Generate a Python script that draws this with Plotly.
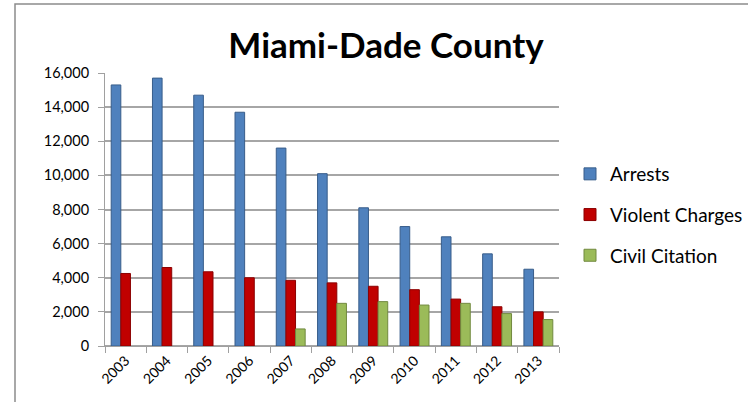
import plotly.graph_objects as go

years = ["2003", "2004", "2005", "2006", "2007", "2008", "2009", "2010", "2011", "2012", "2013"]
arrests = [15300, 15700, 14700, 13700, 11600, 10100, 8100, 7000, 6400, 5400, 4500]
violent = [4250, 4600, 4350, 4000, 3850, 3700, 3500, 3300, 2750, 2300, 2000]
civil = [None, None, None, None, 1000, 2500, 2600, 2400, 2500, 1900, 1550]

W, H = 748, 402
FONT = "Lato"

fig = go.Figure()
series = [
    ("Arrests", arrests, "#4F81BD", "#385D8A"),
    ("Violent Charges", violent, "#C00000", "#8B0000"),
    ("Civil Citation", civil, "#9BBB59", "#71893F"),
]
for i, (name, vals, col, edge) in enumerate(series):
    fig.add_trace(go.Bar(
        x=years, y=vals, name=name, legendgroup=name,
        marker=dict(color=col, line=dict(color=edge, width=1)),
    ))

x0, x1 = 105, 559
y0, y1 = 346, 73
fig.update_layout(
    width=W, height=H,
    margin=dict(l=0, r=0, t=0, b=0, autoexpand=False),
    paper_bgcolor="white", plot_bgcolor="white",
    barmode="group", bargap=0.3, bargroupgap=0,
    font=dict(family=FONT, size=14, color="black"),
    title=dict(text="<b>Miami-Dade County</b>", x=386 / W, xanchor="center",
               y=1 - 46 / H, yanchor="middle",
               font=dict(family=FONT, size=35, color="black")),
    xaxis=dict(domain=[x0 / W, x1 / W], type="category", tickangle=-45,
               range=[-0.5, 10.5], automargin=False,
               tickson="boundaries", ticks="outside", ticklen=6, tickcolor="#A0A0A0",
               showline=True, linecolor="#A0A0A0", linewidth=1,
               showgrid=False, tickfont=dict(size=14)),
    yaxis=dict(domain=[1 - y0 / H, 1 - y1 / H], range=[0, 16000], dtick=2000,
               automargin=False, ticklabelstandoff=6,
               tickformat=",d", ticks="outside", ticklen=6, tickcolor="#A0A0A0",
               showline=True, linecolor="#A0A0A0", linewidth=1,
               showgrid=True, gridcolor="#A6A6A6", gridwidth=2,
               zeroline=True, zerolinecolor="#A6A6A6", zerolinewidth=2,
               tickfont=dict(size=14.5)),
    legend=dict(x=570 / W, xanchor="left", y=1 - 155 / H, yanchor="top",
                traceorder="grouped", tracegroupgap=13,
                font=dict(family=FONT, size=19), bgcolor="rgba(0,0,0,0)"),
    shapes=[dict(type="rect", xref="paper", yref="paper",
                 x0=15 / W, x1=1.02, y0=-0.05, y1=1 - 4 / H,
                 line=dict(color="#8C8C8C", width=1.5), fillcolor="rgba(0,0,0,0)",
                 layer="below")],
)

fig.write_html("out.html", config={"displayModeBar": False},
               post_script="document.body.style.margin='0';document.body.style.overflow='hidden';")
